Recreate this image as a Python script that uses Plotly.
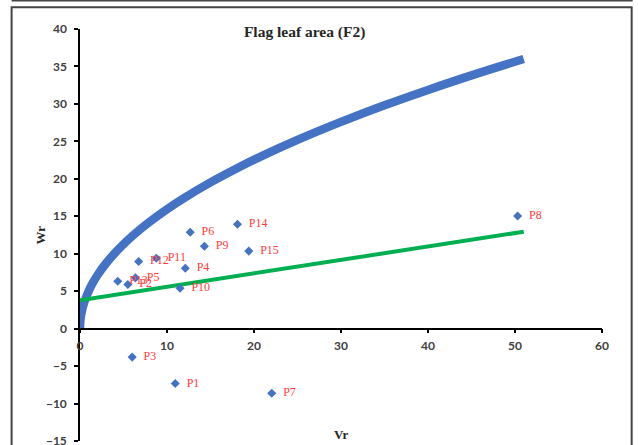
import plotly.graph_objects as go

# Genotype points (Vr, Wr)
labels = ["P1", "P2", "P3", "P4", "P5", "P6", "P7", "P8", "P9", "P10",
          "P11", "P12", "P13", "P14", "P15"]
vr = [10.95, 5.5, 6.0, 12.1, 6.37, 12.67, 22.04, 50.3, 14.3, 11.5,
      8.77, 6.74, 4.34, 18.1, 19.4]
wr = [-7.33, 5.9, -3.8, 8.07, 6.78, 12.86, -8.62, 15.04, 11.0, 5.4,
      9.4, 8.97, 6.33, 13.93, 10.35]

# Limiting parabola
curve_vr = [0, 0.05, 0.2, 0.5, 1, 1.5, 2, 3, 4, 5, 6, 7, 8, 10, 12, 15,
            18, 21, 25, 30, 35, 40, 45, 51]
curve_wr = [0, 1.13, 2.25, 3.56, 5.04, 6.17, 7.13, 8.73, 10.08, 11.27,
            12.35, 13.33, 14.25, 15.94, 17.46, 19.52, 21.38, 23.10, 25.20,
            27.60, 29.82, 31.87, 33.81, 35.99]

# Regression line endpoints
reg_vr = [0, 51]
reg_wr = [3.8, 12.94]

x_ticks = [0, 10, 20, 30, 40, 50, 60]
y_ticks = [-15, -10, -5, 0, 5, 10, 15, 20, 25, 30, 35, 40]

BLUE = "#4472C4"
GREEN = "#00B050"
RED = "#FF3B3B"

fig = go.Figure()
fig.add_trace(go.Scatter(x=curve_vr, y=curve_wr, mode="lines",
                         line=dict(color=BLUE, width=8.5, shape="spline",
                                   smoothing=1.0),
                         hoverinfo="skip"))
fig.add_trace(go.Scatter(x=reg_vr, y=reg_wr, mode="lines",
                         line=dict(color=GREEN, width=4)))
fig.add_trace(go.Scatter(x=vr, y=wr, mode="markers+text", text=labels,
                         texttemplate="  %{text}",
                         textposition="middle right",
                         textfont=dict(family="Liberation Serif", size=12, color=RED),
                         marker=dict(symbol="diamond", size=7, color=BLUE),
                         cliponaxis=False))

tickfont = dict(family="Lato", size=12, color="#404040", weight="bold")
W, H = 638, 445
L, R, T, B = 79.5, 35.7, 29.3, 4.3
pw, ph = W - L - R, H - T - B


def px_x(p):
    return (p - L) / pw


def px_y(p):
    return (H - B - p) / ph


fig.update_layout(
    width=W, height=H,
    margin=dict(l=L, r=R, t=T, b=B, pad=0),
    paper_bgcolor="white", plot_bgcolor="white",
    showlegend=False,
    title=dict(text="Flag leaf area (F2)", xref="paper", x=px_x(304.5),
               xanchor="center", yref="container", y=1 - 32 / H,
               yanchor="middle",
               font=dict(family="Liberation Serif", size=15.5, color="#262626",
                         weight="bold")),
    xaxis=dict(range=[0, 60], tickvals=x_ticks, showgrid=False, zeroline=False,
               showline=True, linecolor="black", linewidth=1.5,
               ticks="outside", ticklen=4, tickcolor="black", tickwidth=1.5,
               tickfont=tickfont, anchor="free", position=15 / 55,
               automargin=False, ticklabelstandoff=2),
    yaxis=dict(range=[-15, 40], tickvals=y_ticks, showgrid=False, zeroline=False,
               showline=True, linecolor="black", linewidth=1.5,
               ticks="outside", ticklen=4, tickcolor="black", tickwidth=1.5,
               tickfont=tickfont, automargin=False, ticklabelstandoff=5,
               ticklabeloverflow="allow"),
    annotations=[
        dict(text="Wr", xref="paper", yref="paper", x=px_x(39), y=px_y(235),
             textangle=-90, showarrow=False, xanchor="center", yanchor="middle",
             font=dict(family="Liberation Serif", size=13, color="#262626",
                       weight="bold")),
        dict(text="Vr", xref="paper", yref="paper", x=px_x(340.5), y=px_y(434),
             showarrow=False, xanchor="center", yanchor="middle",
             font=dict(family="Liberation Serif", size=13, color="#262626",
                       weight="bold")),
    ],
    shapes=[
        dict(type="rect", xref="paper", yref="paper", x0=px_x(11), x1=px_x(632),
             y0=px_y(455), y1=px_y(7.5), line=dict(color="#444444", width=2)),
        dict(type="line", xref="paper", yref="paper", x0=px_x(11), x1=px_x(633),
             y0=px_y(0.8), y1=px_y(0.8), line=dict(color="#444444", width=2)),
    ],
)

fig.write_html("out.html",
               config={"displayModeBar": False},
               post_script="document.body.style.margin='0';"
                           "document.body.style.overflow='hidden';")
